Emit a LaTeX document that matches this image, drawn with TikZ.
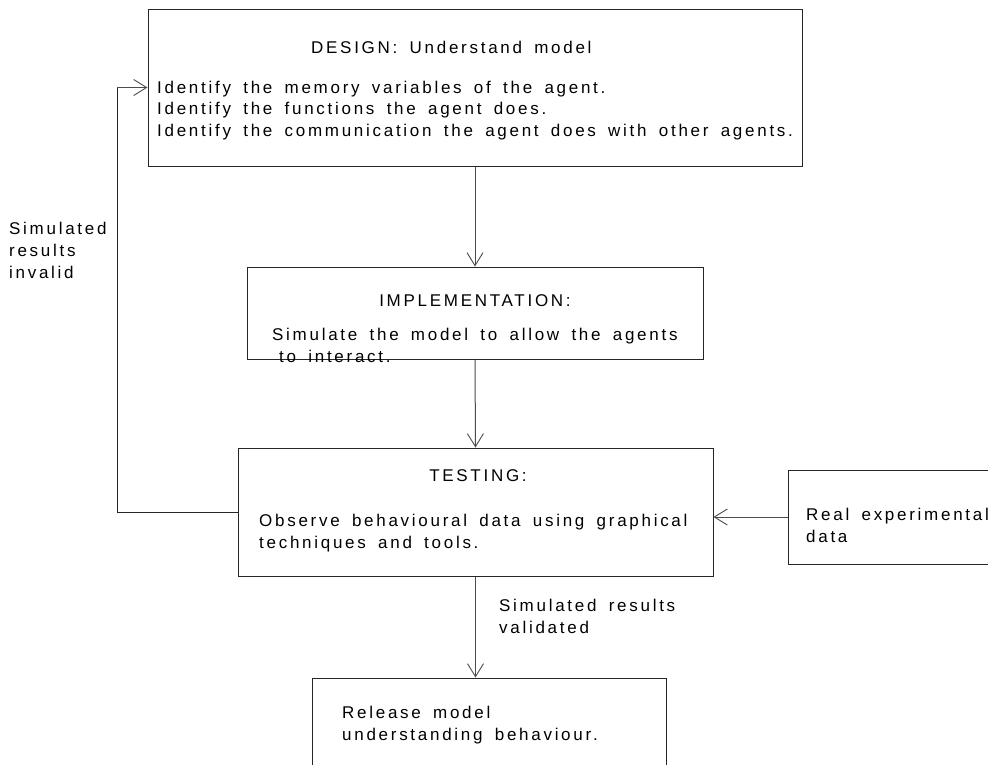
\documentclass[tikz,border=0pt]{standalone}
\usepackage{fontspec}
\setmainfont{Liberation Sans}[LetterSpace=16,WordSpace=1.65]
\usetikzlibrary{arrows.meta}
\begin{document}
\begin{tikzpicture}[x=1pt,y=-1pt,
  box/.style={draw=black!85,line width=1pt,rectangle,inner sep=0pt},
  txt/.style={anchor=base west,inner sep=0pt,font=\fontsize{17}{20}\selectfont,text=black},
  ttl/.style={txt,anchor=base},
  arr/.style={draw=black!70,line width=1pt,-{Straight Barb[length=13pt,width=16pt,line width=0.9pt]}},
  conn/.style={draw=black!85,line width=1pt}]
\clip (0,0) rectangle (988,764);
\fill[white] (0,0) rectangle (988,764);
% boxes
\node[box,minimum width=654pt,minimum height=157pt] (design) at (475,87.5) {};
\node[box,minimum width=456pt,minimum height=92pt] (impl) at (475,313) {};
\node[box,minimum width=475pt,minimum height=128pt] (testing) at (475.5,512) {};
\node[box,minimum width=212pt,minimum height=94pt] (real) at (894,517) {};
\node[box,minimum width=354pt,minimum height=102pt] (release) at (489,729) {};
% texts
\node[txt] (d0) at (311,53) {DESIGN: Understand model};
\node[txt] (d1) at (157,93) {Identify the memory variables of the agent.};
\node[txt] (d2) at (157,114.5) {Identify the functions the agent does.};
\node[txt] (d3) at (157,136) {Identify the communication the agent does with other agents.};
\node[ttl] (i0) at (475,306) {IMPLEMENTATION:};
\node[txt] (i1) at (272,340) {Simulate the model to allow the agents};
\node[txt] (i2) at (279,362) {to interact.};
\node[ttl] (t0) at (478,481) {TESTING:};
\node[txt] (t1) at (259,526) {Observe behavioural data using graphical};
\node[txt] (t2) at (259,548) {techniques and tools.};
\node[txt] (r1) at (806,520) {Real experimental};
\node[txt] (r2) at (806,542) {data};
\node[txt] (e1) at (342,718) {Release model};
\node[txt] (e2) at (342,740) {understanding behaviour.};
\node[txt] (v1) at (499,611) {Simulated results};
\node[txt] (v2) at (499,633) {validated};
\node[txt] (s1) at (9,234) {Simulated};
\node[txt] (s2) at (9,256) {results};
\node[txt] (s3) at (9,278) {invalid};
% connectors
\draw[arr] (design.south) -- (impl.north);
\draw[arr] (impl.south) -- (testing.north);
\draw[arr] (testing.south) -- (testing.south |- release.north);
\draw[arr] (real.west) -- (real.west -| testing.east);
\coordinate (fb) at (117,512);
\draw[conn] (testing.west) -- (fb) -- (fb |- design.west);
\draw[arr] (fb |- design.west) -- (design.west);
\end{tikzpicture}
\end{document}
